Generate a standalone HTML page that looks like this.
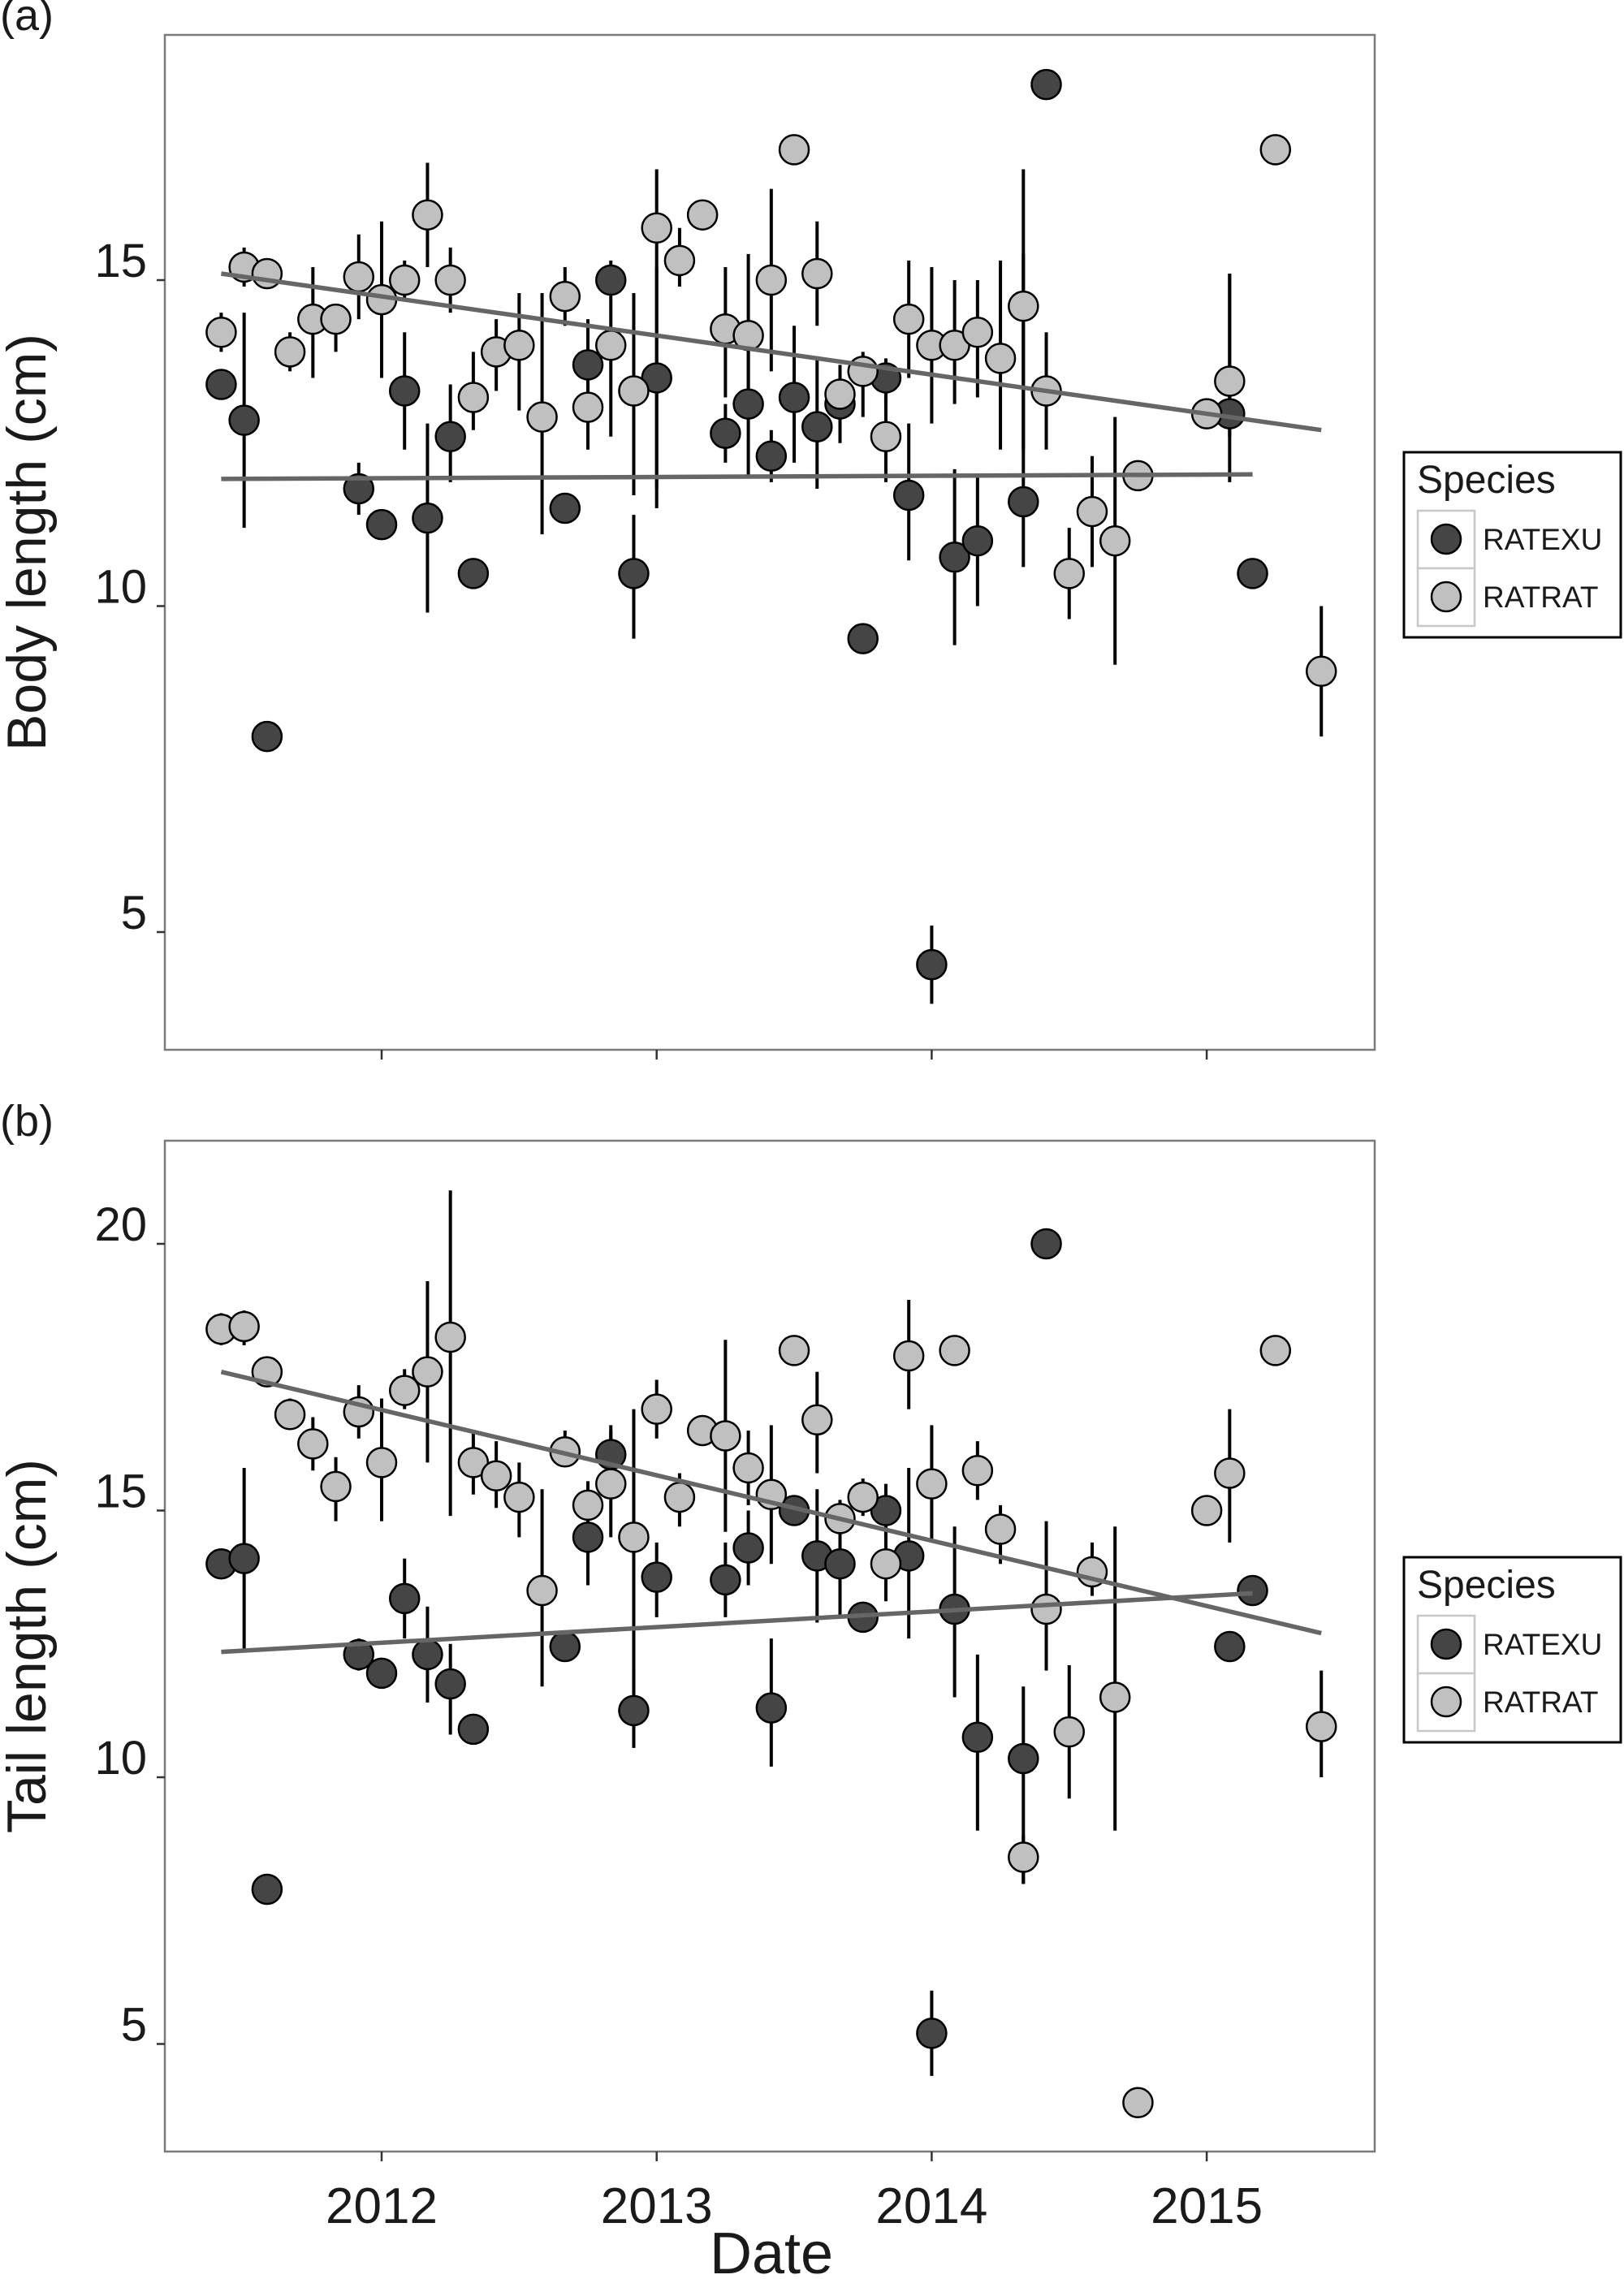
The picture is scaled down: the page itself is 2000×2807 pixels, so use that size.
<!DOCTYPE html>
<html><head><meta charset="utf-8"><style>
html,body{margin:0;padding:0;background:#fff;}
svg text{font-family:"Liberation Sans Narrow","Liberation Sans",sans-serif;fill:#1a1a1a;}
</style></head><body>
<svg id="chart" width="2000" height="2802" viewBox="0 0 2000 2802" xmlns="http://www.w3.org/2000/svg"></svg>
<script>
var yearTicks=[2012,2013,2014,2015];
var aTicks=[5,10,15];
var bTicks=[5,10,15,20];
var aRatM=[-7,-6,-5,-4,-3,-2,-1,0,1,2,3,4,5,6,7,8,9,10,11,12,13,14,15,16,17,18,19,20,21,22,23,24,25,26,27,28,29,30,31,32,33,36,37,39,41];
var aRatV=[14.2,15.2,15.1,13.9,14.4,14.4,15.05,14.7,15.0,16.0,15.0,13.2,13.9,14.0,12.9,14.75,13.05,14.0,13.3,15.8,15.3,16.0,14.25,14.15,15.0,17.0,15.1,13.25,13.6,12.6,14.4,14.0,14.0,14.2,13.8,14.6,13.3,10.5,11.45,11.0,12.0,12.95,13.45,17.0,9.0];
var aRatLo=[13.9,14.9,14.9,13.6,13.5,13.9,14.4,13.5,14.7,15.2,14.5,12.7,13.3,13.0,11.1,14.3,12.4,12.6,11.7,11.8,14.9,null,13.2,12.9,13.6,null,14.3,12.9,12.9,11.9,13.5,12.8,13.1,13.2,12.4,12.4,12.4,9.8,10.6,9.1,null,null,12.6,null,8.0];
var aRatHi=[14.5,15.5,15.3,14.2,15.2,14.5,15.7,15.9,15.3,16.8,15.5,13.9,14.4,14.8,14.8,15.2,13.6,15.3,14.8,16.7,15.8,null,15.2,15.4,16.4,null,15.9,13.6,13.9,13.4,15.3,15.2,15.0,15.0,15.3,16.7,14.2,11.2,12.3,12.9,null,null,15.1,null,10.0];
var aExuM=[-7,-6,-5,-1,0,1,2,3,4,8,9,10,11,12,15,16,17,18,19,20,21,22,23,24,25,26,28,29,37,38];
var aExuV=[13.4,12.85,8.0,11.8,11.25,13.3,11.35,12.6,10.5,11.5,13.7,15.0,10.5,13.5,12.65,13.1,12.3,13.2,12.75,13.1,9.5,13.5,11.7,4.5,10.75,11.0,11.6,18.0,12.95,10.5];
var aExuLo=[null,11.2,null,11.4,null,12.4,9.9,11.9,null,null,12.8,null,9.5,11.5,12.2,12.0,11.9,12.2,11.8,12.5,null,13.1,10.7,3.9,9.4,10.0,10.6,null,11.9,null];
var aExuHi=[null,14.5,null,12.2,null,14.2,12.8,13.4,null,null,14.4,null,11.4,15.2,13.1,14.2,12.7,14.3,13.8,13.7,null,13.8,12.8,5.1,12.1,12.0,15.4,null,15.1,null];
var aRatTrend=[-7,41,15.1,12.7];
var aExuTrend=[-7,38,11.95,12.02];
var bRatM=[-7,-6,-5,-4,-3,-2,-1,0,1,2,3,4,5,6,7,8,9,10,11,12,13,14,15,16,17,18,19,20,21,22,23,24,25,26,27,28,29,30,31,32,33,36,37,39,41];
var bRatV=[18.4,18.45,17.6,16.8,16.25,15.45,16.85,15.9,17.25,17.6,18.25,15.9,15.65,15.25,13.5,16.1,15.1,15.5,14.5,16.9,15.25,16.5,16.4,15.8,15.3,18.0,16.7,14.85,15.25,14.0,17.9,15.5,18.0,15.75,14.65,8.5,13.15,10.85,13.85,11.5,3.9,15.0,15.7,18.0,10.95];
var bRatLo=[18.1,18.1,null,16.6,15.75,14.8,16.35,14.8,16.9,15.9,14.9,15.3,15.05,14.5,11.7,15.85,14.7,14.5,11.4,16.35,14.7,null,14.6,15.1,14.0,null,15.7,14.3,14.9,13.3,16.9,14.4,null,15.2,14.0,8.0,12.0,9.6,13.4,9.0,null,null,14.4,null,10.0];
var bRatHi=[18.7,18.75,null,17.1,16.75,16.0,17.35,17.1,17.65,19.3,21.0,16.5,16.3,15.9,15.4,16.5,15.55,16.5,16.9,17.45,15.7,null,18.2,16.5,16.6,null,17.6,15.2,15.6,14.8,18.95,16.6,null,16.3,15.1,8.9,14.8,12.1,14.4,14.7,null,null,16.9,null,12.0];
var bExuM=[-7,-6,-5,-1,0,1,2,3,4,8,9,10,11,12,15,16,17,18,19,20,21,22,23,24,25,26,28,29,37,38];
var bExuV=[14.0,14.1,7.9,12.3,11.95,13.35,12.3,11.75,10.9,12.45,14.5,16.05,11.25,13.75,13.7,14.3,11.3,15.0,14.15,14.0,13.0,15.0,14.15,5.2,13.15,10.75,10.35,20.0,12.45,13.5];
var bExuLo=[null,12.4,null,12.0,null,12.6,11.4,10.8,null,null,13.6,15.6,10.55,13.0,13.0,13.6,10.2,null,12.9,13.0,null,14.5,12.6,4.4,11.5,9.0,8.0,null,null,null];
var bExuHi=[null,15.8,null,12.6,null,14.1,13.2,12.5,null,null,15.1,16.6,12.0,14.4,14.4,15.0,12.6,null,15.4,14.9,null,15.5,15.8,6.0,14.7,12.3,11.7,null,null,null];
var bRatTrend=[-7,41,17.6,12.7];
var bExuTrend=[-7,38,12.35,13.45];

var NS='http://www.w3.org/2000/svg';
var svg=document.getElementById('chart');
function mk(tag,attrs,parent){var e=document.createElementNS(NS,tag);for(var k in attrs)e.setAttribute(k,attrs[k]);(parent||svg).appendChild(e);return e;}
var X0=203,X1=1693;
function xScale(m){var yr=2012+m/12;return 470+(yr-2012)*338.7;}
function xYear(y){return 470+(y-2012)*338.7;}

function panel(cfg){
  var g=mk('g',{});
  
  
  function yS(v){return cfg.yRef+(cfg.vRef-v)*cfg.ppu;}
  var frame=mk('rect',{x:X0,y:cfg.top,width:X1-X0,height:cfg.bot-cfg.top,fill:'none',stroke:'#7a7a7a','stroke-width':2.5},g);
  
  
  var lab=mk('text',{x:0,y:cfg.top-6,'font-size':54},g);lab.textContent=cfg.label;
  
  
  cfg.yticks.forEach(function(t){
    var y=yS(t);
    mk('line',{x1:X0-10,x2:X0,y1:y,y2:y,stroke:'#333','stroke-width':2.5},g);
    var tx=mk('text',{x:X0-22,y:y-4,'font-size':58,'text-anchor':'end'},g);tx.textContent=t;
    
    
  });
  yearTicks.forEach(function(t){
    var x=xYear(t);
    mk('line',{x1:x,x2:x,y1:cfg.bot,y2:cfg.bot+12,stroke:'#333','stroke-width':2.5},g);
    if(cfg.xlabels){var tx=mk('text',{x:x,y:cfg.bot+88,'font-size':62,'text-anchor':'middle'},g);tx.textContent=t;
      
      }
  });
  var cy=(cfg.top+cfg.bot)/2;
  var yt=mk('text',{x:0,y:0,'font-size':68,'text-anchor':'middle',transform:'translate(56,'+cy+') rotate(-90)'},g);
  yt.textContent=cfg.ytitle;
  
  
  function errs(M,Lo,Hi,nm){M.forEach(function(m,i){if(Lo[i]==null)return;var x=xScale(m);
    var l=mk('line',{x1:x,x2:x,y1:yS(Lo[i]),y2:yS(Hi[i]),stroke:'#000','stroke-width':4},g);
    
    });}
  errs(cfg.exM,cfg.exLo,cfg.exHi,'ratexu-error-bar');
  errs(cfg.rtM,cfg.rtLo,cfg.rtHi,'ratrat-error-bar');
  function pts(M,V,fill,nm){M.forEach(function(m,i){
    var c=mk('circle',{cx:xScale(m),cy:yS(V[i]),r:18,fill:fill,stroke:'#000','stroke-width':2.5},g);
    
    });}
  pts(cfg.exM,cfg.exV,'#454545','ratexu-point');
  pts(cfg.rtM,cfg.rtV,'#c0c0c0','ratrat-point');
  function trend(T,nm){var l=mk('line',{x1:xScale(T[0]),x2:xScale(T[1]),y1:yS(T[2]),y2:yS(T[3]),stroke:'#666','stroke-width':5.5},g);
    
    }
  trend(cfg.exT,'ratexu-trend-line');
  trend(cfg.rtT,'ratrat-trend-line');
  var lg=mk('g',{},g);
  
  
  var L=cfg.legTop;
  mk('rect',{x:1729,y:L,width:267,height:228,fill:'#fff',stroke:'#000','stroke-width':3},lg);
  var st=mk('text',{x:1745,y:L+50,'font-size':48},lg);st.textContent='Species';
  
  
  [['RATEXU','#454545'],['RATRAT','#c0c0c0']].forEach(function(it,i){
    var ry=L+72+i*71;
    mk('rect',{x:1746,y:ry,width:70,height:71,fill:'#fff',stroke:'#c8c8c8','stroke-width':2.5},lg);
    var c=mk('circle',{cx:1781,cy:ry+35,r:18,fill:it[1],stroke:'#000','stroke-width':2.5},lg);
    
    
    var t=mk('text',{x:1826,y:ry+48,'font-size':37},lg);t.textContent=it[0];
    
    
  });
}
panel({name:'panel-a-body-length',label:'(a)',top:43,bot:1293,yRef:345,vRef:15,ppu:80.3,yticks:aTicks,xlabels:false,ytitle:'Body length (cm)',
  rtM:aRatM,rtV:aRatV,rtLo:aRatLo,rtHi:aRatHi,exM:aExuM,exV:aExuV,exLo:aExuLo,exHi:aExuHi,rtT:aRatTrend,exT:aExuTrend,legTop:557});
panel({name:'panel-b-tail-length',label:'(b)',top:1405,bot:2650,yRef:1532,vRef:20,ppu:65.7,yticks:bTicks,xlabels:true,ytitle:'Tail length (cm)',
  rtM:bRatM,rtV:bRatV,rtLo:bRatLo,rtHi:bRatHi,exM:bExuM,exV:bExuV,exLo:bExuLo,exHi:bExuHi,rtT:bRatTrend,exT:bExuTrend,legTop:1918});
var dt=mk('text',{x:950,y:2800,'font-size':72,'text-anchor':'middle'});dt.textContent='Date';


</script>
</body></html>
